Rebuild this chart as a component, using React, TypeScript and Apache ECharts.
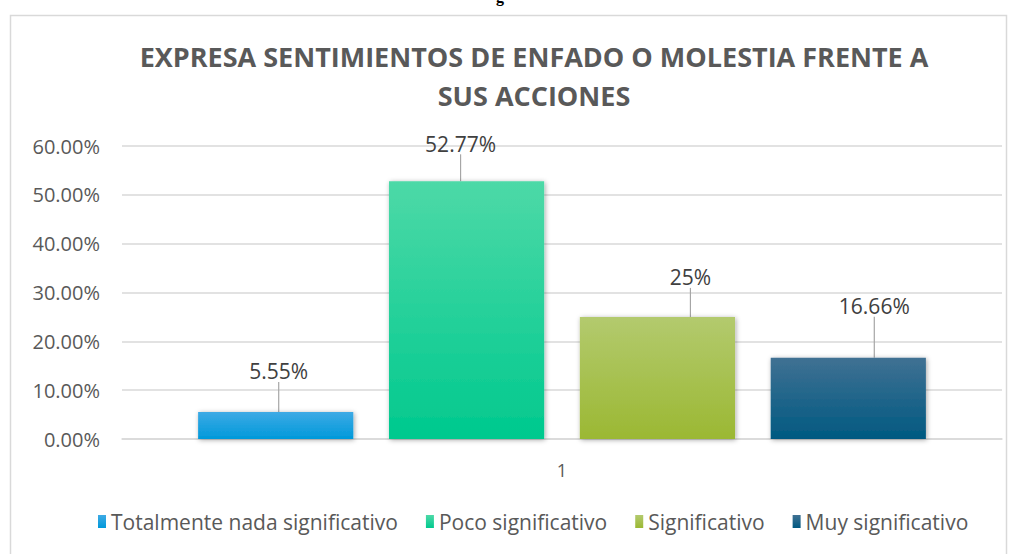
import React, { useEffect, useRef } from "react";
import * as echarts from "echarts";

const titleText = "EXPRESA SENTIMIENTOS DE ENFADO O MOLESTIA FRENTE A\nSUS ACCIONES";
const categories = ["1"];
const seriesNames = ["Totalmente nada significativo", "Poco significativo", "Significativo", "Muy significativo"];
const seriesValues = [5.55, 52.77, 25, 16.66];
const labelTexts = ["5.55%", "52.77%", "25%", "16.66%"];
const yTicks = { min: 0, max: 60, interval: 10 };

const gradients = [
  ["#3eaae5", "#0099da"],
  ["#4dd9a7", "#00c98e"],
  ["#b3ca6e", "#9bb833"],
  ["#407193", "#005981"],
];
const labelShift = [
  { dx: 3, dy: -25 },
  { dx: -6, dy: -22 },
  { dx: 33, dy: -24 },
  { dx: 26, dy: -36 },
];

const FONT = "'Open Sans', 'Noto Sans', sans-serif";

export default function App() {
  const ref = useRef<HTMLDivElement>(null);
  useEffect(() => {
    document.body.style.margin = "0";
    const chart = echarts.init(ref.current!, null, { renderer: "svg" });
    const series = seriesNames.map((name, i) => ({
      name,
      type: "bar",
      data: [seriesValues[i]],
      barGap: "23%",
      barCategoryGap: "17.3%",
      itemStyle: {
        color: new echarts.graphic.LinearGradient(0, 0, 0, 1, [
          { offset: 0, color: gradients[i][0] },
          { offset: 1, color: gradients[i][1] },
        ]),
        shadowBlur: 5,
        shadowColor: "rgba(0,0,0,0.35)",
        shadowOffsetX: 1,
        shadowOffsetY: 1,
      },
      label: {
        show: true,
        position: "top",
        formatter: () => labelTexts[i],
        fontFamily: FONT,
        fontSize: 21,
        color: "#404040",
      },
      labelLayout: labelShift[i],
      labelLine: { show: true, lineStyle: { color: "#a6a6a6", width: 1.2 } },
    }));
    chart.setOption({
      animation: false,
      backgroundColor: "#ffffff",
      textStyle: { fontFamily: FONT },
      title: {
        text: titleText,
        left: 529,
        textAlign: "center",
        top: 32,
        textStyle: {
          fontFamily: FONT,
          fontSize: 27,
          fontWeight: "bold",
          color: "#595959",
          lineHeight: 39,
        },
      },
      graphic: [
        {
          type: "rect",
          shape: { x: 10.5, y: 15.5, width: 996, height: 560 },
          style: { fill: "none", stroke: "#d9d9d9", lineWidth: 1.5 },
          silent: true,
          z: -1,
        },
        {
          type: "text",
          x: 500,
          y: 4,
          style: {
            text: "g",
            fontFamily: "'Liberation Serif', serif",
            fontWeight: "bold",
            fontSize: 16,
            fill: "#000",
            align: "center",
            verticalAlign: "bottom",
          },
          silent: true,
        },
      ],
      legend: {
        bottom: 17,
        left: 93,
        itemWidth: 8,
        itemHeight: 13,
        itemGap: 28,
        icon: "rect",
        textStyle: { fontFamily: FONT, fontSize: 21, color: "#595959" },
        data: seriesNames,
      },
      grid: { left: 122, right: 15, top: 146, bottom: 115 },
      xAxis: {
        type: "category",
        data: categories,
        axisLine: { lineStyle: { color: "#d9d9d9", width: 1.5 } },
        axisTick: { show: false },
        axisLabel: { fontFamily: FONT, fontSize: 18, color: "#595959", margin: 22 },
      },
      yAxis: {
        type: "value",
        min: yTicks.min,
        max: yTicks.max,
        interval: yTicks.interval,
        axisLine: { show: false },
        axisTick: { show: false },
        splitLine: { lineStyle: { color: "#d9d9d9", width: 1.5 } },
        axisLabel: {
          fontFamily: FONT,
          fontSize: 20,
          color: "#595959",
          margin: 22,
          formatter: (v: number) => v.toFixed(2) + "%",
        },
      },
      series,
    });
    return () => chart.dispose();
  }, []);
  return <div ref={ref} style={{ width: 1017, height: 554 }} />;
}
